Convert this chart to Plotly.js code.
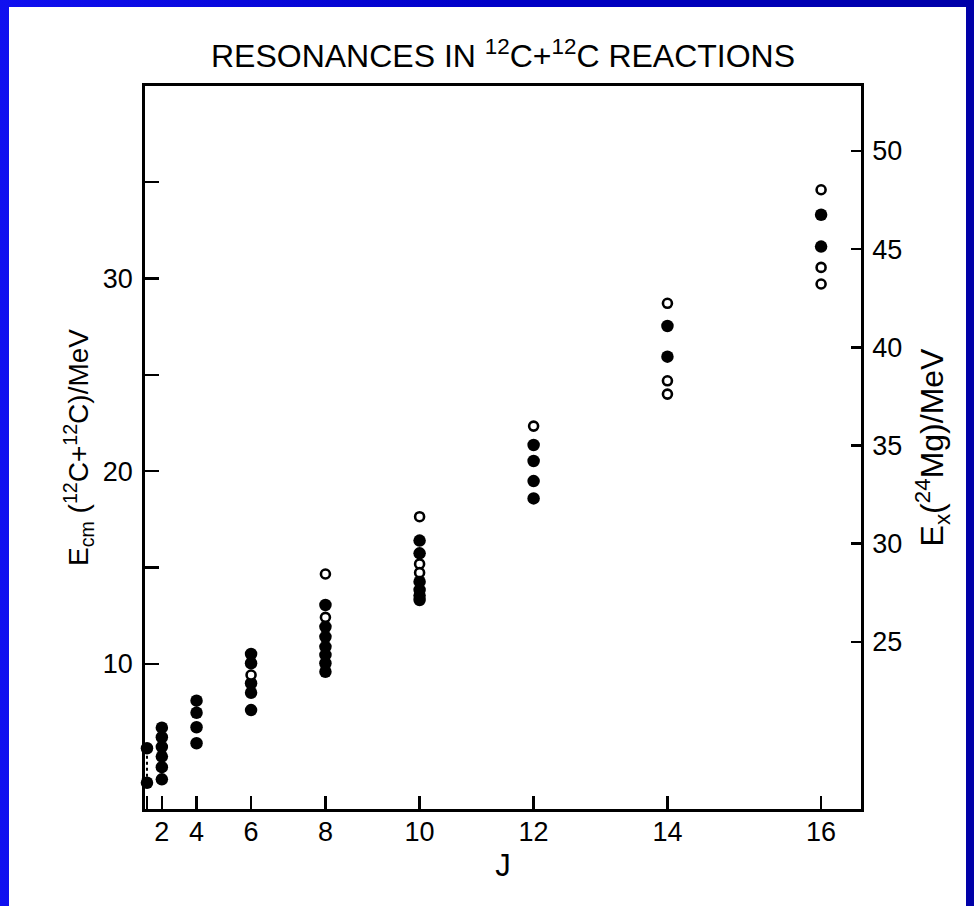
<!DOCTYPE html>
<html>
<head>
<meta charset="utf-8">
<script src="https://cdn.plot.ly/plotly-3.0.1.min.js"></script>
<style>
  html, body { margin: 0; padding: 0; width: 974px; height: 906px; overflow: hidden;
    background: linear-gradient(90deg, #1010f0 0%, #0000c8 50%, #0000a8 100%); }
  #sheet { position: absolute; left: 9px; top: 7px; width: 957px; height: 899px; background: #ffffff; }
  #chart { position: absolute; left: 0; top: 0; width: 974px; height: 906px; }
</style>
</head>
<body>
<div id="sheet"></div>
<div id="chart"></div>
<script>
// ---- Data ----
// Filled circles: spin J and centre-of-mass energy E_cm (MeV)
const J_filled = [0, 0,
                  2, 2, 2, 2, 2, 2,
                  4, 4, 4, 4,
                  6, 6, 6, 6, 6,
                  8, 8, 8, 8, 8, 8, 8,
                  10, 10, 10, 10, 10, 10,
                  12, 12, 12, 12,
                  14, 14,
                  16, 16];
const E_filled = [5.63, 3.84,
                  6.70, 6.20, 5.70, 5.20, 4.65, 4.02,
                  8.10, 7.47, 6.72, 5.89,
                  10.52, 10.04, 9.00, 8.51, 7.61,
                  13.06, 11.93, 11.41, 10.89, 10.47, 10.04, 9.60,
                  16.40, 15.74, 14.27, 13.84, 13.55, 13.32,
                  21.36, 20.53, 19.49, 18.59,
                  27.53, 25.94,
                  33.30, 31.65];
// Open circles
const J_open = [6,
                8, 8,
                10, 10, 10,
                12,
                14, 14, 14,
                16, 16, 16];
const E_open = [9.43,
                14.67, 12.42,
                17.64, 15.19, 14.74,
                22.34,
                28.71, 24.69, 24.00,
                34.60, 30.57, 29.71];
// Dotted range drawn at J = 0
const J_range = [0, 0];
const E_range = [3.84, 5.63];

// Axis ticks
const J_ticks = [2, 4, 6, 8, 10, 12, 14, 16];
const J_tick_labels = ['2', '4', '6', '8', '10', '12', '14', '16'];
const J_minor_ticks = [0];
const Ecm_ticks = [10, 20, 30];
const Ecm_tick_labels = ['10', '20', '30'];
const Ecm_minor_ticks = [15, 25, 35];
const Ex_ticks = [25, 30, 35, 40, 45, 50];
const Ex_tick_labels = ['25', '30', '35', '40', '45', '50'];

// The horizontal axis is linear in J(J+1)
const jj = j => j * (j + 1);

const FONT = 'Liberation Sans, Arial, Helvetica, sans-serif';

const traces = [
  {
    x: J_range.map(jj), y: E_range, mode: 'lines', type: 'scatter',
    line: {color: '#000', width: 2, dash: 'dot'},
    cliponaxis: false, showlegend: false, hoverinfo: 'skip'
  },
  {
    x: J_filled.map(jj), y: E_filled, mode: 'markers', type: 'scatter',
    marker: {symbol: 'circle', size: 12.5, color: '#000', line: {width: 0}},
    cliponaxis: false, showlegend: false, name: 'filled'
  },
  {
    x: J_open.map(jj), y: E_open, mode: 'markers', type: 'scatter',
    marker: {symbol: 'circle', size: 9, color: '#fff', line: {width: 2.6, color: '#000'}},
    cliponaxis: false, showlegend: false, name: 'open'
  },
  {
    x: [], y: [], yaxis: 'y2', type: 'scatter', mode: 'markers',
    showlegend: false, hoverinfo: 'skip'
  }
];

const tickStyle = {ticks: 'inside', tickwidth: 2.5, tickcolor: '#000'};

const layout = {
  width: 974, height: 906,
  margin: {l: 145, r: 113, t: 86, b: 97, pad: 0},
  paper_bgcolor: 'rgba(0,0,0,0)',
  plot_bgcolor: 'rgba(0,0,0,0)',
  font: {family: FONT, color: '#000'},
  showlegend: false,
  title: {
    text: 'RESONANCES IN <sup>12</sup>C+<sup>12</sup>C REACTIONS',
    font: {family: FONT, size: 32, color: '#000'},
    xref: 'paper', x: 0.5, xanchor: 'center',
    yref: 'container', y: 0.938, yanchor: 'middle'
  },
  xaxis: Object.assign({
    range: [-0.8, 288.1],
    tickmode: 'array', tickvals: J_ticks.map(jj), ticktext: J_tick_labels,
    ticklen: 13,
    minor: {tickmode: 'array', tickvals: J_minor_ticks.map(jj), ticks: 'inside',
            ticklen: 13, tickwidth: 2.5, tickcolor: '#000', showgrid: false},
    showline: true, linewidth: 2.8, linecolor: '#000', mirror: true,
    showgrid: false, zeroline: false,
    tickfont: {family: FONT, size: 27, color: '#000'},
    ticklabelstandoff: -3,
    title: {text: 'J', font: {family: FONT, size: 31, color: '#000'}, standoff: 8}
  }, tickStyle),
  yaxis: Object.assign({
    range: [2.48, 39.98],
    tickmode: 'array', tickvals: Ecm_ticks, ticktext: Ecm_tick_labels,
    ticklen: 14,
    minor: {tickmode: 'array', tickvals: Ecm_minor_ticks, ticks: 'inside',
            ticklen: 14, tickwidth: 2.5, tickcolor: '#000', showgrid: false},
    showline: true, linewidth: 2.8, linecolor: '#000',
    showgrid: false, zeroline: false,
    tickfont: {family: FONT, size: 27, color: '#000'},
    ticklabelstandoff: 4,
    title: {text: 'E<sub>cm</sub> (<sup>12</sup>C+<sup>12</sup>C)/MeV',
            font: {family: FONT, size: 28, color: '#000'}, standoff: 6}
  }, tickStyle),
  yaxis2: Object.assign({
    overlaying: 'y', side: 'right', anchor: 'x',
    range: [16.48, 53.31],
    tickmode: 'array', tickvals: Ex_ticks, ticktext: Ex_tick_labels,
    ticklen: 10,
    showline: true, linewidth: 2.8, linecolor: '#000',
    showgrid: false, zeroline: false,
    tickfont: {family: FONT, size: 27, color: '#000'},
    ticklabelstandoff: 3,
    title: {text: 'E<sub>x</sub>(<sup>24</sup>Mg)/MeV',
            font: {family: FONT, size: 32, color: '#000'}, standoff: 20}
  }, tickStyle)
};

Plotly.newPlot('chart', traces, layout, {staticPlot: true, displayModeBar: false});
</script>
</body>
</html>
